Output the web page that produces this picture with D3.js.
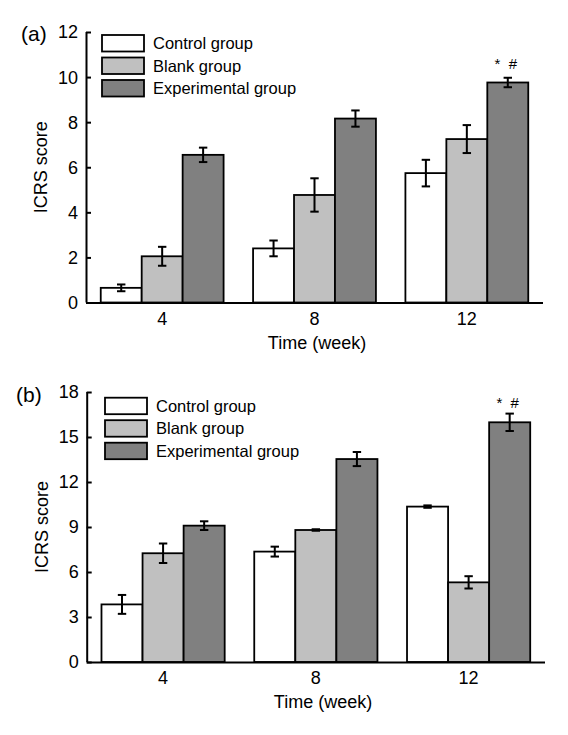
<!DOCTYPE html>
<html>
<head>
<meta charset="utf-8">
<script src="https://cdn.jsdelivr.net/npm/d3@7"></script>
<style>
  body { margin: 0; background: #fff; }
  svg { display: block; font-family: "Liberation Sans", Arial, sans-serif; }
</style>
</head>
<body>
<svg id="chart" width="568" height="735"></svg>
<script>
const categories = ["4", "8", "12"];
const seriesNames = ["Control group", "Blank group", "Experimental group"];
const seriesColors = ["#ffffff", "#c0c0c0", "#808080"];

// Panel (a)
const aControl = [0.65, 2.4, 5.74];
const aBlank = [2.05, 4.77, 7.25];
const aExperimental = [6.55, 8.16, 9.76];
const aControlErr = [0.15, 0.35, 0.59];
const aBlankErr = [0.42, 0.74, 0.62];
const aExperimentalErr = [0.32, 0.36, 0.21];
const aTicks = [0, 2, 4, 6, 8, 10, 12];

// Panel (b)
const bControl = [3.84, 7.36, 10.36];
const bBlank = [7.25, 8.8, 5.31];
const bExperimental = [9.09, 13.53, 15.98];
const bControlErr = [0.63, 0.33, 0.08];
const bBlankErr = [0.65, 0.05, 0.41];
const bExperimentalErr = [0.29, 0.47, 0.58];
const bTicks = [0, 3, 6, 9, 12, 15, 18];

const annotation = "*  #";
const xTitle = "Time (week)";
const yTitle = "ICRS score";

const svg = d3.select("#chart");

function panel(opt) {
  const g = svg.append("g");
  const x0 = d3.scaleBand().domain(categories).range([opt.x0, opt.x1]).padding(0);
  const x1 = d3.scaleBand().domain(seriesNames).range([0, x0.bandwidth()])
    .paddingInner(0).paddingOuter(0.36);
  const y = d3.scaleLinear().domain([0, opt.max]).range([opt.y0, opt.yTop]);

  const series = [opt.c, opt.b, opt.e];
  const errs = [opt.ce, opt.be, opt.ee];

  // bars
  series.forEach((vals, si) => {
    g.selectAll(null).data(vals).join("rect")
      .attr("x", (d, i) => x0(categories[i]) + x1(seriesNames[si]))
      .attr("y", d => y(d))
      .attr("width", x1.bandwidth())
      .attr("height", d => y(0) - y(d))
      .attr("fill", seriesColors[si])
      .attr("stroke", "#000")
      .attr("stroke-width", 1.8);
  });

  // error bars
  series.forEach((vals, si) => {
    vals.forEach((v, i) => {
      const cx = x0(categories[i]) + x1(seriesNames[si]) + x1.bandwidth() / 2;
      const e = errs[si][i];
      const eg = g.append("g").attr("stroke", "#000").attr("stroke-width", 2);
      eg.append("line").attr("x1", cx).attr("x2", cx).attr("y1", y(v + e)).attr("y2", y(v - e));
      eg.append("line").attr("x1", cx - 4.2).attr("x2", cx + 4.2).attr("y1", y(v + e)).attr("y2", y(v + e));
      eg.append("line").attr("x1", cx - 4.2).attr("x2", cx + 4.2).attr("y1", y(v - e)).attr("y2", y(v - e));
    });
  });

  // y axis (ticks inward)
  const yAxis = d3.axisRight(y).tickValues(opt.ticks).tickSize(5).tickSizeOuter(0).tickFormat("");
  const ya = g.append("g").attr("transform", `translate(${opt.x0},0)`).call(yAxis);
  ya.select(".domain").attr("stroke-width", 2).attr("d", `M0.5,${opt.yTop}V${opt.y0}`);
  ya.selectAll(".tick line").attr("stroke-width", 2);
  g.selectAll(null).data(opt.ticks).join("text")
    .attr("x", opt.x0 - 8).attr("y", d => y(d)).attr("dy", "0.36em")
    .attr("text-anchor", "end").attr("font-size", 18).text(d => d);

  // x axis line
  g.append("line").attr("x1", opt.x0).attr("x2", opt.x1)
    .attr("y1", opt.y0 + 0.5).attr("y2", opt.y0 + 0.5)
    .attr("stroke", "#000").attr("stroke-width", 2);
  g.selectAll(null).data(categories).join("text")
    .attr("x", d => x0(d) + x0.bandwidth() / 2).attr("y", opt.y0 + 22)
    .attr("text-anchor", "middle").attr("font-size", 18).text(d => d);

  // titles
  g.append("text").attr("x", opt.xTitleX).attr("y", opt.y0 + 46)
    .attr("text-anchor", "middle").attr("font-size", 18).text(xTitle);
  g.append("text").attr("transform", `translate(${opt.x0 - 39},${(opt.y0 + opt.yTop) / 2}) rotate(-90)`)
    .attr("text-anchor", "middle").attr("font-size", 18).text(yTitle);
  g.append("text").attr("x", opt.labelX).attr("y", opt.labelY)
    .attr("font-size", 21).text(opt.label);

  // annotation above last experimental bar
  const ax = x0(categories[2]) + x1(seriesNames[2]) + x1.bandwidth() / 2;
  g.append("text").attr("x", ax - 2).attr("y", opt.annY)
    .attr("text-anchor", "middle").attr("font-size", 15)
    .attr("xml:space", "preserve").text(annotation);

  // legend
  seriesNames.forEach((s, i) => {
    const ly = opt.legY + i * opt.legStep;
    g.append("rect").attr("x", opt.legX).attr("y", ly).attr("width", 42).attr("height", 16.5)
      .attr("fill", seriesColors[i]).attr("stroke", "#000").attr("stroke-width", 1.8);
    g.append("text").attr("x", opt.legX + 51).attr("y", ly + 8.5).attr("dy", "0.35em")
      .attr("font-size", 16.5).text(s);
  });
}

panel({
  x0: 86, x1: 543, y0: 302.5, yTop: 32, max: 12, ticks: aTicks,
  c: aControl, b: aBlank, e: aExperimental, ce: aControlErr, be: aBlankErr, ee: aExperimentalErr,
  xTitleX: 317, label: "(a)", labelX: 21, labelY: 41, annY: 69,
  legX: 102, legY: 35, legStep: 22.5
});

panel({
  x0: 86.7, x1: 545, y0: 662, yTop: 392, max: 18, ticks: bTicks,
  c: bControl, b: bBlank, e: bExperimental, ce: bControlErr, be: bBlankErr, ee: bExperimentalErr,
  xTitleX: 323, label: "(b)", labelX: 16, labelY: 402, annY: 408,
  legX: 105, legY: 397.7, legStep: 22.5
});
</script>
</body>
</html>
